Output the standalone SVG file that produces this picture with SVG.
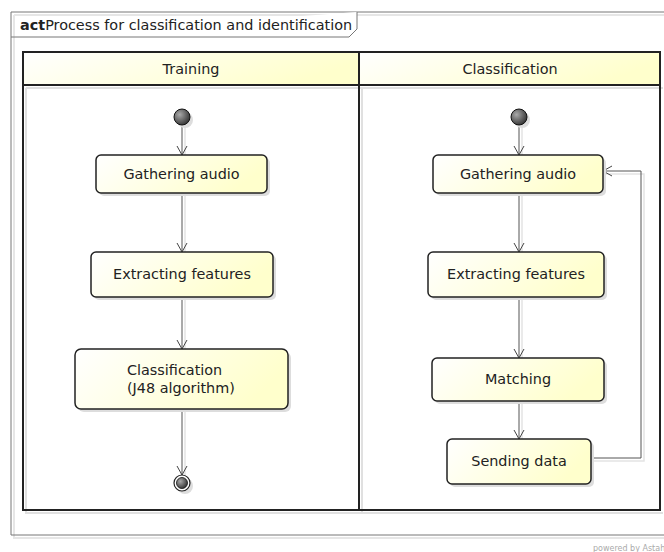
<svg xmlns="http://www.w3.org/2000/svg" width="664" height="552" viewBox="0 0 664 552">
<defs>
<linearGradient id="gy" x1="0" y1="0" x2="1" y2="0.3">
<stop offset="0" stop-color="#ffffff"/>
<stop offset="1" stop-color="#ffffcc"/>
</linearGradient>
<radialGradient id="gs" cx="0.35" cy="0.35" r="0.7">
<stop offset="0" stop-color="#aaaaaa"/>
<stop offset="1" stop-color="#333333"/>
</radialGradient>
<marker id="arr" markerWidth="12" markerHeight="12" refX="10" refY="6" orient="auto" markerUnits="userSpaceOnUse" viewBox="0 0 12 12">
<path d="M1,1 L10,6 L1,11" fill="none" stroke="#444" stroke-width="1"/>
</marker>
</defs>
<style>
text{font-family:"DejaVu Sans","Liberation Sans",sans-serif;font-size:14.4px;fill:#222}
.node{fill:url(#gy);stroke:#222;stroke-width:1.5}
.shadow{fill:#dddddd;stroke:none}
.conn{fill:none;stroke:#555;stroke-width:1}
.cshadow{fill:none;stroke:#e4e4e4;stroke-width:1.5}
.lane{fill:none;stroke:#222;stroke-width:2}
</style>
<rect width="664" height="552" fill="#ffffff"/>
<g id="frame">
<path d="M12,13 H670 M12,13 V536 H670" fill="none" stroke="#e6e6e6" stroke-width="2" transform="translate(2,2)"/>
<path d="M11,12 H670 M11,12 V535 H670" fill="none" stroke="#777" stroke-width="1"/>
<path d="M11,37 H349 L357,29 V12" fill="#ffffff" stroke="#777" stroke-width="1"/>
<text x="20" y="30"><tspan font-weight="bold">act</tspan>Process for classification and identification</text>
</g>
<g id="lanes">
<path d="M26,88 V513 H663 M362,88 V513 M26,88 H663" fill="none" stroke="#e0e0e0" stroke-width="2"/>
<rect x="23" y="52" width="336" height="33" fill="url(#gy)"/>
<rect x="359" y="52" width="301" height="33" fill="url(#gy)"/>
<rect x="23" y="52" width="637" height="458" class="lane"/>
<line x1="23" y1="85" x2="660" y2="85" class="lane"/>
<line x1="359" y1="52" x2="359" y2="510" class="lane"/>
<text x="191" y="74" text-anchor="middle">Training</text>
<text x="510" y="74" text-anchor="middle">Classification</text>
</g>
<g id="connectors">
<path class="cshadow" d="M185,125 V155 M185,193 V252 M185,297 V349 M185,409 V475"/>
<path class="conn" marker-end="url(#arr)" d="M182,125 V155"/>
<path class="conn" marker-end="url(#arr)" d="M182,193 V252"/>
<path class="conn" marker-end="url(#arr)" d="M182,297 V349"/>
<path class="conn" marker-end="url(#arr)" d="M182,409 V475"/>
<path class="cshadow" d="M522,125 V155 M522,193 V252 M522,297 V358 M522,401 V439 M591,461 H644 V174 H606"/>
<path class="conn" marker-end="url(#arr)" d="M519,125 V155"/>
<path class="conn" marker-end="url(#arr)" d="M519,193 V252"/>
<path class="conn" marker-end="url(#arr)" d="M519,297 V358"/>
<path class="conn" marker-end="url(#arr)" d="M519,401 V439"/>
<path class="conn" marker-end="url(#arr)" d="M591,458 H641 V171 H603"/>
</g>
<g id="start1">
<circle cx="185" cy="120" r="8" class="shadow"/>
<circle cx="182" cy="117" r="8" fill="url(#gs)" stroke="#111" stroke-width="1"/>
</g>
<g id="gather1">
<rect x="99" y="158" width="171" height="38" rx="5" class="shadow"/>
<rect x="96" y="155" width="171" height="38" rx="5" class="node"/>
<text x="181.5" y="179" text-anchor="middle">Gathering audio</text>
</g>
<g id="extract1">
<rect x="94" y="255" width="182" height="45" rx="5" class="shadow"/>
<rect x="91" y="252" width="182" height="45" rx="5" class="node"/>
<text x="182" y="279" text-anchor="middle">Extracting features</text>
</g>
<g id="classify1">
<rect x="78" y="352" width="213" height="60" rx="6" class="shadow"/>
<rect x="75" y="349" width="213" height="60" rx="6" class="node"/>
<text x="127" y="375">Classification</text>
<text x="127" y="393">(J48 algorithm)</text>
</g>
<g id="end1">
<circle cx="185" cy="486" r="8" class="shadow"/>
<circle cx="182" cy="483" r="8" fill="#ffffff" stroke="#222" stroke-width="1.2"/>
<circle cx="182" cy="483" r="5.5" fill="url(#gs)" stroke="#111" stroke-width="0.8"/>
</g>
<g id="start2">
<circle cx="522" cy="120" r="8" class="shadow"/>
<circle cx="519" cy="117" r="8" fill="url(#gs)" stroke="#111" stroke-width="1"/>
</g>
<g id="gather2">
<rect x="436" y="158" width="170" height="38" rx="5" class="shadow"/>
<rect x="433" y="155" width="170" height="38" rx="5" class="node"/>
<text x="518" y="179" text-anchor="middle">Gathering audio</text>
</g>
<g id="extract2">
<rect x="431" y="255" width="176" height="45" rx="5" class="shadow"/>
<rect x="428" y="252" width="176" height="45" rx="5" class="node"/>
<text x="516" y="279" text-anchor="middle">Extracting features</text>
</g>
<g id="matching">
<rect x="435" y="361" width="172" height="43" rx="5" class="shadow"/>
<rect x="432" y="358" width="172" height="43" rx="5" class="node"/>
<text x="518" y="384" text-anchor="middle">Matching</text>
</g>
<g id="sending">
<rect x="450" y="442" width="144" height="45" rx="5" class="shadow"/>
<rect x="447" y="439" width="144" height="45" rx="5" class="node"/>
<text x="519" y="466" text-anchor="middle">Sending data</text>
</g>
<text x="593" y="551" style="font-size:8px;fill:#aaaaaa">powered by Astah</text>
</svg>
